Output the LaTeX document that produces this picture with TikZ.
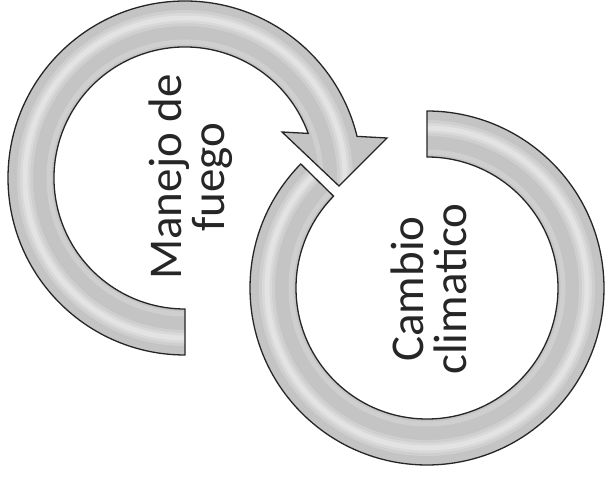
\documentclass[tikz,border=0pt]{standalone}
\usepackage{fontspec}
\setmainfont{Carlito}
\definecolor{ringgray}{gray}{0.77}
\definecolor{ringlightA}{gray}{0.81}
\definecolor{ringlightB}{gray}{0.85}
\definecolor{ringlightC}{gray}{0.89}
\definecolor{ringedge}{gray}{0.15}
\begin{document}
\begin{tikzpicture}[x=1pt,y=1pt,
  ringfill/.style={fill=ringgray},
  ringline/.style={draw=ringedge, line width=1.3pt, line join=miter},
  hiliteA/.style={draw=ringlightA, line width=16pt},
  hiliteB/.style={draw=ringlightB, line width=10pt},
  hiliteC/.style={draw=ringlightC, line width=5pt},
  hiliteinner/.style={draw=ringlightA, line width=5pt},
  ringtext/.style={rotate=90, align=center, font=\fontsize{47}{43}\selectfont, text=black!85}]
\useasboundingbox (0,0) rectangle (608,477);
\fill[white] (0,0) rectangle (608,477);
\coordinate (c1) at (185,299);
\coordinate (c2) at (427,189);

% ring 1 (Manejo de fuego) with arrow head
\fill[ringfill] (185,122) arc[start angle=270, end angle=13.6, radius=177]
  -- (387,339) -- (339,291) -- (282,345)
  -- ([shift={(185,299)}]19.9:131) arc[start angle=19.9, end angle=270, radius=131] -- cycle;
\begin{scope}
  \clip (185,122) arc[start angle=270, end angle=13.6, radius=177]
  -- (387,339) -- (339,291) -- (282,345)
  -- ([shift={(185,299)}]19.9:131) arc[start angle=19.9, end angle=270, radius=131] -- cycle;
  \draw[hiliteinner] ([shift={(185,299)}]270:136) arc[start angle=270, end angle=-40, radius=136];
  \draw[hiliteA] ([shift={(185,299)}]270:160) arc[start angle=270, end angle=-40, radius=160];
  \draw[hiliteB] ([shift={(185,299)}]270:160) arc[start angle=270, end angle=-40, radius=160];
  \draw[hiliteC] ([shift={(185,299)}]270:160) arc[start angle=270, end angle=-40, radius=160];
\end{scope}
\draw[ringline] (185,122) arc[start angle=270, end angle=13.6, radius=177]
  -- (387,339) -- (339,291) -- (282,345)
  -- ([shift={(185,299)}]19.9:131) arc[start angle=19.9, end angle=270, radius=131] -- cycle;

% ring 2 (Cambio climatico)
\fill[ringfill] ([shift={(427,189)}]135.5:177) arc[start angle=135.5, end angle=450, radius=177]
  -- ([shift={(427,189)}]90:131) arc[start angle=450, end angle=135.5, radius=131] -- cycle;
\begin{scope}
  \clip ([shift={(427,189)}]135.5:177) arc[start angle=135.5, end angle=450, radius=177]
  -- ([shift={(427,189)}]90:131) arc[start angle=450, end angle=135.5, radius=131] -- cycle;
  \draw[hiliteinner] ([shift={(427,189)}]130:136) arc[start angle=130, end angle=455, radius=136];
  \draw[hiliteA] ([shift={(427,189)}]130:160) arc[start angle=130, end angle=455, radius=160];
  \draw[hiliteB] ([shift={(427,189)}]130:160) arc[start angle=130, end angle=455, radius=160];
  \draw[hiliteC] ([shift={(427,189)}]130:160) arc[start angle=130, end angle=455, radius=160];
\end{scope}
\draw[ringline] ([shift={(427,189)}]135.5:177) arc[start angle=135.5, end angle=450, radius=177]
  -- ([shift={(427,189)}]90:131) arc[start angle=450, end angle=135.5, radius=131] -- cycle;

\node[ringtext] (t1) at (191,300) {Manejo de\\fuego};
\node[ringtext] (t2) at (429,188) {Cambio\\climatico};
\end{tikzpicture}
\end{document}
